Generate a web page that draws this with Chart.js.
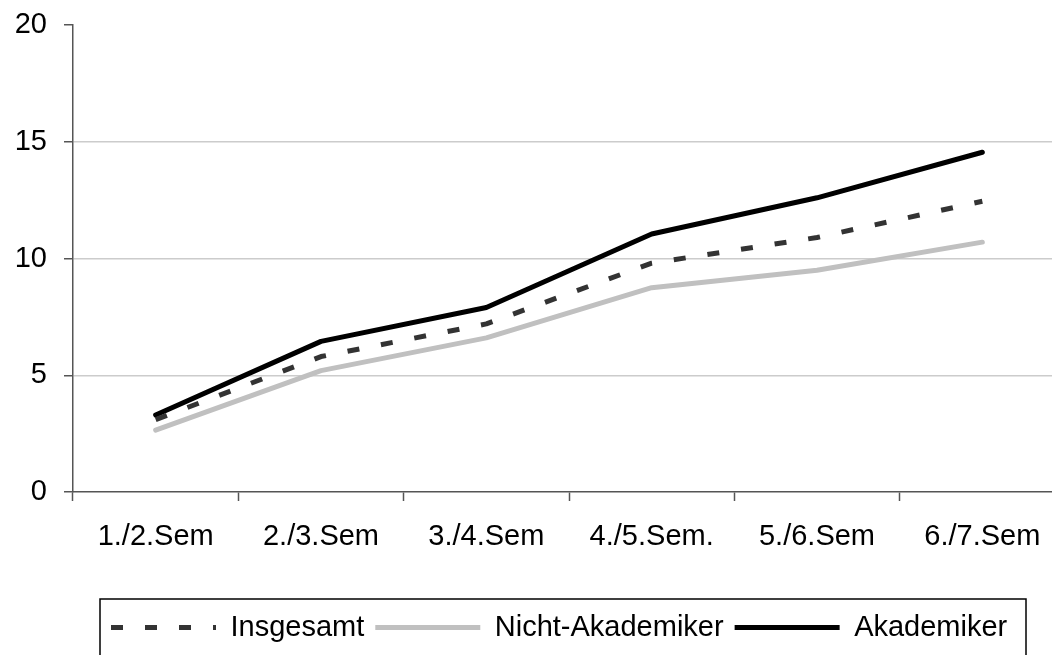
<!DOCTYPE html>
<html>
<head>
<meta charset="utf-8">
<script src="https://cdn.jsdelivr.net/npm/chart.js@4/dist/chart.umd.min.js"></script>
<style>
  html, body { margin: 0; padding: 0; background: #fff; overflow: hidden; }
  #wrap { width: 1052px; height: 655px; overflow: hidden; }
</style>
</head>
<body>
<div id="wrap"><canvas id="chart" width="1068" height="655"></canvas></div>
<script>
// Daten
const semesters = ['1./2.Sem', '2./3.Sem', '3./4.Sem', '4./5.Sem.', '5./6.Sem', '6./7.Sem'];
const insgesamt = [3.1, 5.8, 7.2, 9.8, 10.9, 12.45];
const nichtAkademiker = [2.65, 5.2, 6.6, 8.75, 9.5, 10.7];
const akademiker = [3.3, 6.45, 7.9, 11.05, 12.6, 14.55];
const yTicks = [0, 5, 10, 15, 20];

const FONT = { family: '"Liberation Sans", Arial, sans-serif', size: 29 };
const PLOT_BOTTOM = 492;

// Rahmen um die Legende + Position
const legendFrame = {
    id: 'legendFrame',
    afterLayout(chart) {
        const lg = chart.legend;
        const w = lg.width, h = lg.height;
        lg.left = 100;
        lg.right = lg.left + w;
        lg.top = 602;
        lg.bottom = lg.top + h;
    },
    afterDraw(chart) {
        const ctx = chart.ctx;
        ctx.save();
        ctx.strokeStyle = '#000';
        ctx.lineWidth = 1.5;
        ctx.strokeRect(100, 599, 926, 100);
        ctx.restore();
    }
};

new Chart(document.getElementById('chart').getContext('2d'), {
    type: 'line',
    data: {
        labels: semesters,
        datasets: [
            {
                label: 'Insgesamt',
                data: insgesamt,
                borderColor: '#333333',
                backgroundColor: '#333333',
                borderWidth: 5,
                borderDash: [12, 22],
                borderCapStyle: 'butt',
                borderJoinStyle: 'round',
                pointRadius: 0,
                tension: 0,
            },
            {
                label: 'Nicht-Akademiker',
                data: nichtAkademiker,
                borderColor: '#c0c0c0',
                backgroundColor: '#c0c0c0',
                borderWidth: 5,
                borderCapStyle: 'round',
                borderJoinStyle: 'round',
                pointRadius: 0,
                tension: 0,
            },
            {
                label: 'Akademiker',
                data: akademiker,
                borderColor: '#000000',
                backgroundColor: '#000000',
                borderWidth: 5,
                borderCapStyle: 'round',
                borderJoinStyle: 'round',
                pointRadius: 0,
                tension: 0,
            },
        ],
    },
    options: {
        responsive: false,
        animation: false,
        layout: { padding: { top: 25, right: 3, left: 0, bottom: 0 } },
        plugins: {
            tooltip: { enabled: false },
            legend: {
                position: 'bottom',
                align: 'start',
                labels: {
                    usePointStyle: true,
                    pointStyle: 'line',
                    pointStyleWidth: 105,
                    padding: 11,
                    color: '#000',
                    font: FONT,
                    generateLabels(chart) {
                        const items = Chart.defaults.plugins.legend.labels.generateLabels(chart);
                        items.forEach(it => {
                            const ds = chart.data.datasets[it.datasetIndex];
                            it.lineDash = ds.borderDash || [];
                            it.lineWidth = ds.borderWidth;
                            it.strokeStyle = ds.borderColor;
                            it.lineCap = 'butt';
                        });
                        return items;
                    },
                },
            },
        },
        scales: {
            x: {
                offset: true,
                grid: {
                    offset: true,
                    drawOnChartArea: false,
                    tickLength: 9,
                    tickColor: '#555',
                    tickWidth: 1.5,
                },
                border: { color: '#555', width: 1.5 },
                ticks: { color: '#000', font: FONT, padding: 19, maxRotation: 0 },
                afterFit(scale) {
                    const lgH = scale.chart.legend ? scale.chart.legend.height : 0;
                    scale.height = 655 - PLOT_BOTTOM - lgH;
                },
            },
            y: {
                min: 0,
                max: 20,
                afterBuildTicks(scale) {
                    scale.ticks = yTicks.map(v => ({ value: v }));
                },
                grid: {
                    color: ctx => (ctx.tick && (ctx.tick.value === 20 || ctx.tick.value === 0)) ? 'rgba(0,0,0,0)' : '#cccccc',
                    lineWidth: 1.5,
                    tickLength: 9,
                    tickColor: '#555',
                    tickWidth: 1.5,
                },
                border: { color: '#555', width: 1.5 },
                ticks: { color: '#000', font: FONT, padding: 17 },
                afterFit(scale) {
                    scale.width = 73;
                    scale.paddingTop = 0;
                    scale.paddingBottom = 0;
                },
            },
        },
    },
    plugins: [legendFrame],
});
</script>
</body>
</html>
